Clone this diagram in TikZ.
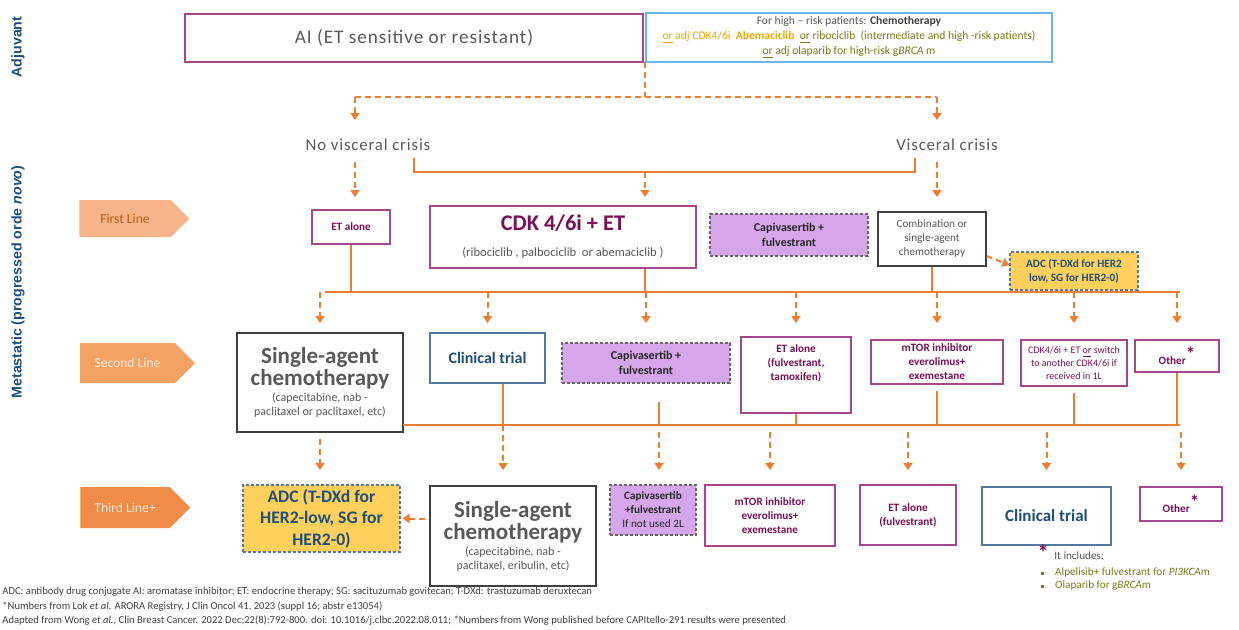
\documentclass[tikz,border=0pt]{standalone}
\usepackage{fontspec}
\setmainfont{Carlito}
\newfontfamily\sidefont{Liberation Sans}
\newfontfamily\airyfont[LetterSpace=5]{Carlito}
\usetikzlibrary{shapes.symbols, arrows.meta}

\definecolor{lineorange}{RGB}{237,125,49}
\definecolor{boxpurple}{RGB}{168,72,140}
\definecolor{txtpurple}{RGB}{122,16,84}
\definecolor{navy}{RGB}{31,78,121}
\definecolor{trialblue}{RGB}{84,120,160}
\definecolor{skyblue}{RGB}{110,180,240}
\definecolor{lilac}{RGB}{214,166,234}
\definecolor{gold}{RGB}{255,208,92}
\definecolor{txtgray}{RGB}{89,89,89}
\definecolor{olive}{RGB}{120,125,25}
\definecolor{amber}{RGB}{242,168,0}
\definecolor{firstfill}{RGB}{246,180,136}
\definecolor{secondfill}{RGB}{244,162,100}
\definecolor{thirdfill}{RGB}{240,140,72}
\definecolor{flagdark}{RGB}{192,90,30}
\definecolor{flaglight}{RGB}{253,233,217}

\newcommand{\headtxt}[1]{{\bfseries\fontsize{11.5}{12}\selectfont #1}}
\newcommand{\othermark}{\raisebox{2pt}{\fontsize{9.5}{9.5}\selectfont *}}

\begin{document}
\begin{tikzpicture}[x=0.5pt, y=-0.5pt,
	box/.style={rectangle, draw, line width=0.6pt, align=center, inner sep=1pt},
	pbox/.style={box, draw=boxpurple, text=txtpurple, font=\bfseries\fontsize{5.6}{7}\selectfont},
	gbox/.style={box, draw=black!75, text=txtgray},
	tbox/.style={box, draw=trialblue, text=navy, font=\bfseries\fontsize{8}{9.5}\selectfont},
	cbox/.style={box, draw=black!60, dash pattern=on 1.5pt off 1pt, fill=lilac, text=black!85, font=\bfseries\fontsize{6}{7.5}\selectfont},
	abox/.style={box, draw=trialblue, dash pattern=on 1.5pt off 1pt, fill=gold, text=navy},
	flag/.style={signal, signal to=east, signal pointer angle=90, inner sep=1pt, font=\fontsize{6.8}{8}\selectfont},
	sidelabel/.style={rotate=90, text=navy, font=\sidefont\bfseries\fontsize{7.1}{8}\selectfont},
	crisis/.style={text=txtgray, font=\airyfont\fontsize{8.4}{9.5}\selectfont},
	note/.style={anchor=west, inner sep=0pt, text=black!75, font=\fontsize{5.3}{6}\selectfont},
	busline/.style={lineorange, line width=1.1pt},
	dashline/.style={lineorange, line width=1pt, dash pattern=on 3pt off 2pt},
	dasharrow/.style={dashline, -{Triangle[width=4.5pt,length=3.5pt]}}
]
	\fill[white] (0,0) rectangle (1239,629);
	\useasboundingbox (0,0) rectangle (1239,629);

	% side labels
	\node[sidelabel] (adj)  at (18,47)  {Adjuvant};
	\node[sidelabel] (meta) at (18,282) {Metastatic (progressed orde \textit{novo})};

	% adjuvant
	\node[box, draw=boxpurple, text=txtgray, minimum width=229pt, minimum height=24pt,
		font=\airyfont\fontsize{9.6}{11}\selectfont] (AI) at (414,38) {AI (ET sensitive or resistant)};
	\node[box, draw=skyblue, minimum width=203pt, minimum height=24.5pt,
		font=\fontsize{5.8}{7.5}\selectfont] (HR) at (849,37.5)
		{{\color{txtgray}For high -- risk patients: \textbf{\color{black!75}Chemotherapy}}\\
		 {\color{amber}\underline{or} adj CDK4/6i \ \textbf{Abemaciclib}} \ {\color{olive}\underline{or} ribociclib \ (intermediate and high -risk patients)}\\
		 {\color{olive}\underline{or} adj olaparib for high-risk g\textit{BRCA} m}};

	\node[crisis] (NVC) at (368,145) {No visceral crisis};
	\node[crisis] (VC)  at (947,145) {Visceral crisis};

	% first line
	\node[flag, fill=firstfill, text=flagdark, minimum width=55pt, minimum height=18.5pt] (L1) at (125,218.5) {First Line};
	\node[pbox, minimum width=39pt, minimum height=17pt] (ETa) at (351,227) {ET alone};
	\node[pbox, minimum width=133pt, minimum height=31pt, font=\bfseries\fontsize{11.2}{12}\selectfont] (CDK) at (563,237)
		{CDK 4/6i + ET\\[1pt]{\mdseries\color{txtgray}\fontsize{6.3}{7.5}\selectfont (ribociclib , palbociclib \ or abemaciclib )}};
	\node[cbox, minimum width=79pt, minimum height=21pt] (Cap1) at (789,235) {Capivasertib +\\fulvestrant};
	\node[gbox, minimum width=54pt, minimum height=27pt, font=\fontsize{5.6}{7}\selectfont] (Comb) at (932,239)
		{Combination or\\single-agent\\chemotherapy};
	\node[abox, minimum width=64pt, minimum height=19pt, font=\bfseries\fontsize{5.6}{7}\selectfont] (ADC1) at (1074,271)
		{ADC (T-DXd for HER2\\low, SG for HER2-0)};

	% second line
	\node[flag, fill=secondfill, text=flaglight, minimum width=57.5pt, minimum height=20pt] (L2) at (127.5,363) {Second Line};
	\node[gbox, minimum width=83pt, minimum height=49.5pt, font=\fontsize{6}{7}\selectfont] (SAC2) at (320,382.5)
		{\headtxt{Single-agent}\\\headtxt{chemotherapy}\\[1pt](capecitabine, nab -\\paclitaxel or paclitaxel, etc)};
	\node[tbox, minimum width=57.5pt, minimum height=25pt] (CT2) at (487.5,358) {Clinical trial};
	\node[cbox, minimum width=84pt, minimum height=20pt] (Cap2) at (646,363) {Capivasertib +\\fulvestrant};
	\node[pbox, minimum width=55pt, minimum height=38pt] (ET2) at (796,375) {ET alone\\(fulvestrant,\\tamoxifen)\\[5pt]};
	\node[pbox, minimum width=66pt, minimum height=22pt] (mTOR2) at (937,362) {mTOR inhibitor\\everolimus+\\exemestane};
	\node[pbox, minimum width=53pt, minimum height=23pt, font=\fontsize{5}{6.5}\selectfont] (CDK2) at (1074,363)
		{CDK4/6i + ET \underline{or} switch\\to another CDK4/6i if\\received in 1L};
	\node[pbox, minimum width=42pt, minimum height=16pt] (Oth2) at (1177,356) {Other\othermark};

	% third line
	\node[flag, fill=thirdfill, text=flaglight, minimum width=55pt, minimum height=20.5pt] (L3) at (125,507.5) {Third Line+};
	\node[abox, minimum width=78.5pt, minimum height=33.5pt, font=\bfseries\fontsize{8.8}{10.8}\selectfont] (ADC3) at (321.5,518.5)
		{ADC (T-DXd for\\HER2-low, SG for\\HER2-0)};
	\node[gbox, minimum width=83pt, minimum height=50pt, font=\fontsize{6}{7}\selectfont] (SAC3) at (513,536)
		{\headtxt{Single-agent}\\\headtxt{chemotherapy}\\[1pt](capecitabine, nab -\\paclitaxel, eribulin, etc)};
	\node[cbox, minimum width=43pt, minimum height=25pt, font=\bfseries\fontsize{5.6}{7}\selectfont] (Cap3) at (653,510)
		{Capivasertib\\+fulvestrant\\{\mdseries If not used 2L}};
	\node[pbox, minimum width=65pt, minimum height=30.5pt] (mTOR3) at (770,515.5) {mTOR inhibitor\\everolimus+\\exemestane};
	\node[pbox, minimum width=48pt, minimum height=30pt] (ET3) at (908,515) {ET alone\\(fulvestrant)};
	\node[tbox, minimum width=64.5pt, minimum height=29pt, font=\bfseries\fontsize{8.5}{10}\selectfont] (CT3) at (1046.5,516) {Clinical trial};
	\node[pbox, minimum width=41pt, minimum height=17pt] (Oth3) at (1181,504) {Other\othermark};

	% footnotes
	\node[text=txtpurple, inner sep=0pt, font=\bfseries\fontsize{11}{12}\selectfont] (ast) at (1043,553) {*};
	\node[note, text=txtgray, font=\fontsize{5.6}{7}\selectfont] (incl) at (1054,556) {It includes:};
	\node[note, text=olive, font=\fontsize{5.6}{7}\selectfont] (inc1) at (1041,573)
		{\rule[0.6pt]{1.4pt}{1.4pt}\hspace{5.5pt}Alpelisib+ fulvestrant for \textit{PI3KCA}m};
	\node[note, text=olive, font=\fontsize{5.6}{7}\selectfont] (inc2) at (1041,586)
		{\rule[0.6pt]{1.4pt}{1.4pt}\hspace{5.5pt}Olaparib for g\textit{BRCA}m};
	\node[note] (ab1) at (2,592) {ADC: antibody drug conjugate AI: aromatase inhibitor; ET: endocrine therapy; SG: sacituzumab govitecan; T-DXd: trastuzumab deruxtecan};
	\node[note] (ab2) at (2,607) {*Numbers from Lok \textit{et al.} ARORA Registry, J Clin Oncol 41, 2023 (suppl 16; abstr e13054)};
	\node[note] (ab3) at (2,621) {Adapted from Wong \textit{et al.}, Clin Breast Cancer. 2022 Dec;22(8):792-800. doi: 10.1016/j.clbc.2022.08.011; *Numbers from Wong published before CAPItello-291 results were presented};

	% junctions
	\coordinate (adjB) at (645,62);
	\coordinate (sp)   at (645,97);
	\coordinate (spL)  at (355,97);
	\coordinate (spR)  at (937,97);
	\coordinate (brL)  at (414,172);
	\coordinate (brR)  at (915,172);
	\coordinate (b1L)  at (325,292);
	\coordinate (b1R)  at (1180,292);
	\coordinate (b2L)  at (403,425);
	\coordinate (b2R)  at (1180,425);
	\coordinate (r1)   at (0,120);
	\coordinate (r2)   at (0,162);
	\coordinate (r3)   at (0,197);
	\coordinate (t2)   at (0,323);
	\coordinate (s3)   at (0,432);
	\coordinate (t3)   at (0,470);
	\coordinate (ctdrop)  at ([xshift=7.75pt]CT2.south);
	\coordinate (capdrop) at ([xshift=6.5pt]Cap2.south);

	% adjuvant -> crisis
	\draw[dashline] (adjB) -- (sp);
	\draw[dashline] (spL) -- (spR);
	\path[dasharrow]
		(spL)			edge	(spL |- r1)
		(spR)			edge	(spR |- r1)
		(spL |- r2)		edge	(spL |- r3)
		(spR |- r2)		edge	(spR |- r3)
		(sp |- brL)		edge	(sp |- r3)
	;
	\draw[busline] (brL |- NVC.south) -- (brL) -- (brR) -- (brR |- VC.south);

	% first line -> second line
	\draw[busline] (ETa.south) -- (ETa.south |- b1L);
	\draw[busline] (sp |- CDK.south) -- (sp |- b1L);
	\draw[busline] (Comb.south) -- (Comb.south |- b1L);
	\draw[busline] (b1L) -- (b1R);
	\draw[dasharrow] ([yshift=-8.5pt]Comb.east) -- ([yshift=3pt]ADC1.west);
	\path[dasharrow]
		(SAC2.north |- b1L)		edge	(SAC2.north |- t2)
		(CT2.north |- b1L)		edge	(CT2.north |- t2)
		(Cap2.north |- b1L)		edge	(Cap2.north |- t2)
		(ET2.north |- b1L)		edge	(ET2.north |- t2)
		(mTOR2.north |- b1L)	edge	(mTOR2.north |- t2)
		(CDK2.north |- b1L)		edge	(CDK2.north |- t2)
		(Oth2.north |- b1L)		edge	(Oth2.north |- t2)
	;

	% second line -> third line
	\draw[busline] (b2L) -- (b2R);
	\draw[busline] (ctdrop) -- (ctdrop |- b2L);
	\draw[busline, shorten <=9pt] (capdrop) -- (capdrop |- b2L);
	\draw[busline] (ET2.south) -- (ET2.south |- b2L);
	\draw[busline, shorten <=3pt] (mTOR2.south) -- (mTOR2.south |- b2L);
	\draw[busline, shorten <=3pt] (CDK2.south) -- (CDK2.south |- b2L);
	\draw[busline] (Oth2.south) -- (Oth2.south |- b2L);
	\path[dasharrow]
		(SAC2.south)			edge[shorten <=3pt]	(SAC2.south |- t3)
		(ctdrop |- b2L)			edge	(ctdrop |- t3)
		(capdrop |- s3)			edge	(capdrop |- t3)
		(mTOR3.north |- s3)		edge	(mTOR3.north |- t3)
		(ET3.north |- s3)		edge	(ET3.north |- t3)
		(CT3.north |- s3)		edge	(CT3.north |- t3)
		(Oth3.north |- s3)		edge	(Oth3.north |- t3)
	;
	\draw[dasharrow, shorten <=2pt, shorten >=1pt] (SAC3.west |- ADC3.east) -- (ADC3.east);

\end{tikzpicture}
\end{document}
